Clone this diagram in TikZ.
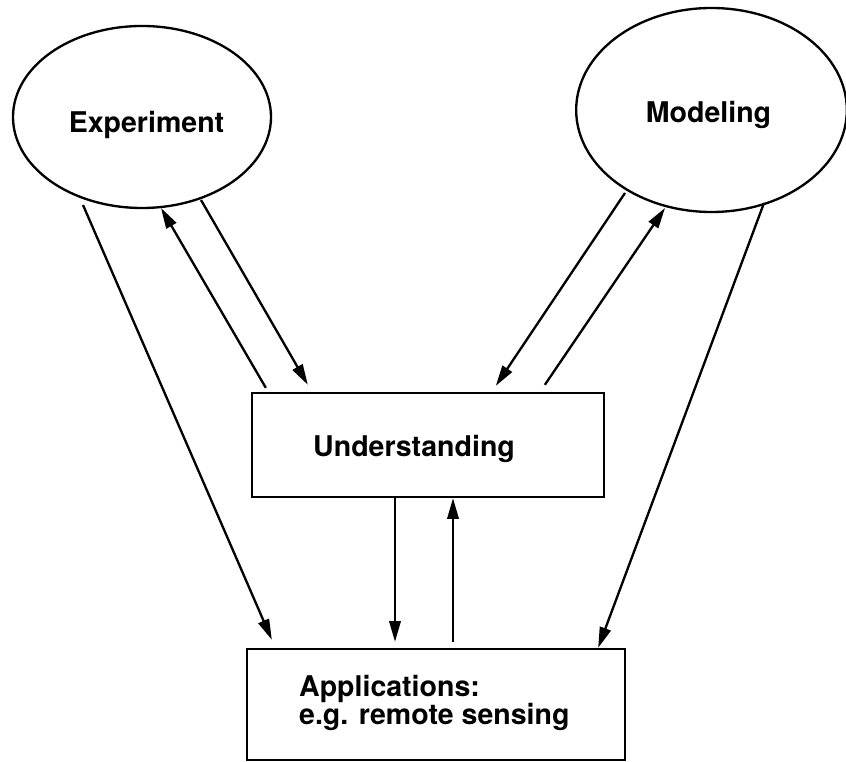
\documentclass[tikz,border=0pt]{standalone}
\usepackage{fontspec}
\setmainfont{TeX Gyre Heros}
\usetikzlibrary{shapes.geometric,calc,arrows.meta}

\begin{document}
\begin{tikzpicture}[x=0.75pt, y=-0.75pt, line width=1.75pt, every node/.style={font=\fontsize{21.4}{21}\selectfont\bfseries}]
            \tikzstyle{blob}=[ellipse, draw, inner sep=0pt]
            \tikzstyle{box}=[rectangle, draw, inner sep=0pt]
            \tikzstyle{lbl}=[inner sep=0pt, align=left]
            \tikzstyle{arr}=[-{Triangle[length=15.5pt,width=8.5pt]}]

            \useasboundingbox (0,0) rectangle (846,762);

            \node[blob, minimum width=193.5pt, minimum height=136.5pt] (exp) at (142,117) {};
            \node[blob, minimum width=203pt, minimum height=153pt] (mod) at (711.5,110) {};
            \node[box, minimum width=264pt, minimum height=78pt] (und) at (428,445) {};
            \node[box, minimum width=283.5pt, minimum height=83.25pt] (app) at (436,704.5) {};

            \node[lbl, anchor=base] (expl) at (146.5,133) {Experiment};
            \node[lbl, anchor=base] (modl) at (708.5,123) {Modeling};
            \node[lbl, anchor=base] (undl) at (414,457) {Understanding};
            \node[lbl, anchor=north west] (appl) at (298,674) {Applications:\\e.g. remote sensing};

            \draw[arr] ($(exp)+(-59,88)$) -- ($(app.north west)+(26,-8)$);
            \draw[arr] ($(und.north west)+(15,-4)$) -- ($(exp)+(19,91)$);
            \draw[arr] ($(exp)+(59,83)$) -- ($(und.north west)+(57,-7)$);
            \draw[arr] ($(mod)+(-86.5,83)$) -- ($(und.north west)+(245,-6)$);
            \draw[arr] ($(und.north west)+(294,-7)$) -- ($(mod)+(-46.5,98)$);
            \draw[arr] ($(mod)+(52.5,93)$) -- ($(app.north east)+(-28,0)$);
            \draw[arr] ($(und.south)+(-33,0)$) -- ($(app.north)+(-41,-6)$);
            \draw[arr] ($(app.north)+(17,-6)$) -- ($(und.south)+(25,0)$);
        \end{tikzpicture}
\end{document}
